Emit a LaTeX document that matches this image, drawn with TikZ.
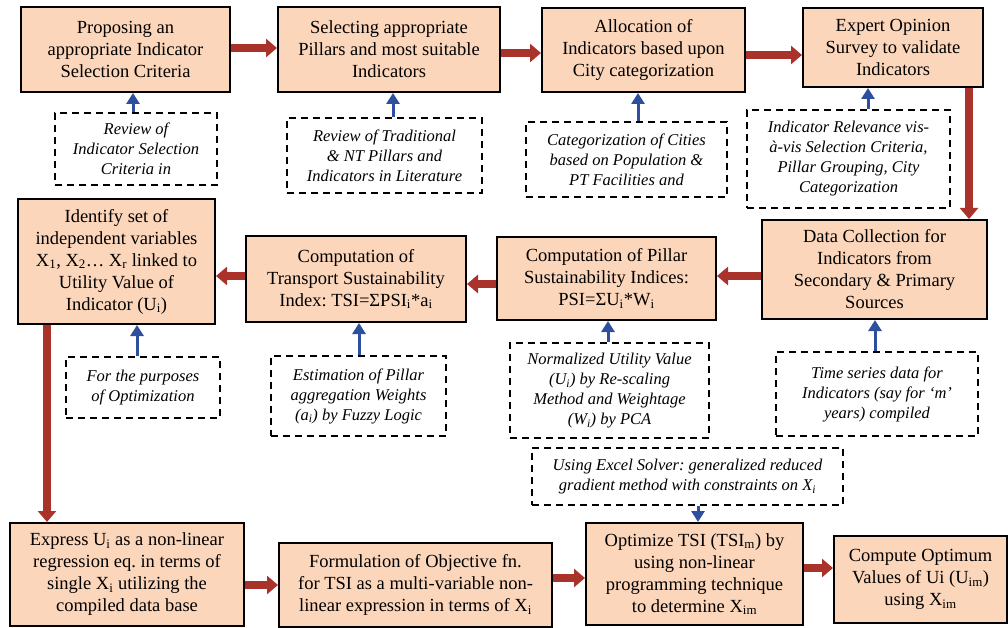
\documentclass[tikz,border=0pt]{standalone}
\usepackage{fontspec}
\setmainfont{Liberation Serif}
\usetikzlibrary{arrows.meta}
\frenchspacing
\definecolor{boxfill}{HTML}{FCD6BA}
\definecolor{redarr}{HTML}{A9322A}
\definecolor{bluearr}{HTML}{2E4F9E}
\tikzset{
 mainbox/.style={draw=black, line width=2pt, fill=boxfill, inner sep=0pt, align=center, font=\fontsize{18.5}{22}\selectfont\frenchspacing},
 dashbox/.style={draw=black, line width=1.8pt, dash pattern=on 7pt off 5pt, inner sep=0pt, align=center, font=\fontsize{16.5}{20}\selectfont\itshape\frenchspacing},
 redarrow/.style={draw=redarr, line width=8pt, -{Triangle[length=11pt,width=18pt]}},
 bluearrow/.style={draw=bluearr, line width=3pt, -{Triangle[length=11pt,width=13pt]}},
}
\newcommand{\sub}[1]{\textsubscript{#1}}
\begin{document}
\begin{tikzpicture}[x=1pt,y=-1pt]
\useasboundingbox (0,0) rectangle (1008,628);
% top row
\node[mainbox, minimum width=209pt, minimum height=85pt] (b1) at (125.5,49.5) {Proposing an\\appropriate Indicator\\Selection Criteria};
\node[mainbox, minimum width=222pt, minimum height=85pt] (b2) at (389,49.5) {Selecting appropriate\\Pillars and most suitable\\Indicators};
\node[mainbox, minimum width=203pt, minimum height=84pt] (b3) at (643.5,50) {Allocation of\\Indicators based upon\\City categorization};
\node[mainbox, minimum width=180pt, minimum height=79pt] (b4) at (893,47.5) {Expert Opinion\\Survey to validate\\Indicators};
% top dashed
\node[dashbox, minimum width=162pt, minimum height=72pt] (d1) at (136,149) {Review of\\Indicator Selection\\Criteria in};
\node[dashbox, minimum width=195pt, minimum height=75pt] (d2) at (384.5,155.5) {Review of Traditional\\\& NT Pillars and\\Indicators in Literature};
\node[dashbox, minimum width=201pt, minimum height=75pt] (d3) at (626.5,159.5) {Categorization of Cities\\based on Population \&\\PT Facilities and};
\node[dashbox, minimum width=203pt, minimum height=98pt] (d4) at (848.5,159) {Indicator Relevance vis-\\à-vis Selection Criteria,\\Pillar Grouping, City\\Categorization};
% middle row
\node[mainbox, minimum width=197pt, minimum height=125pt] (m1) at (116.5,261.5) {Identify set of\\independent variables\\X\sub{1}, X\sub{2}… X\sub{r} linked to\\Utility Value of\\Indicator (U\sub{i})};
\node[mainbox, minimum width=220pt, minimum height=86pt] (m2) at (356,279) {Computation of\\Transport Sustainability\\Index: TSI=ΣPSI\sub{i}*a\sub{i}};
\node[mainbox, minimum width=219pt, minimum height=83pt] (m3) at (606.5,278.5) {Computation of Pillar\\Sustainability Indices:\\PSI=ΣU\sub{i}*W\sub{i}};
\node[mainbox, minimum width=225pt, minimum height=99pt] (m4) at (874.5,269.5) {Data Collection for\\Indicators from\\Secondary \& Primary\\Sources};
% middle dashed
\node[dashbox, minimum width=154pt, minimum height=61pt] (dm1) at (143,387.5) {For the purposes\\of Optimization};
\node[dashbox, minimum width=175pt, minimum height=80pt] (dm2) at (358.5,396) {Estimation of Pillar\\aggregation Weights\\(a\sub{i}) by Fuzzy Logic};
\node[dashbox, minimum width=199pt, minimum height=95pt] (dm3) at (609.5,390.5) {Normalized Utility Value\\(U\sub{i}) by Re-scaling\\Method and Weightage\\(W\sub{i}) by PCA};
\node[dashbox, minimum width=202pt, minimum height=84pt] (dm4) at (877,394) {Time series data for\\Indicators (say for ‘m’\\years) compiled};
\node[dashbox, minimum width=311pt, minimum height=57pt] (dx) at (687.5,476.5) {Using Excel Solver: generalized reduced\\gradient method with constraints on X\sub{i}};
% bottom row
\node[mainbox, minimum width=234pt, minimum height=103pt] (e1) at (127,574.5) {Express U\sub{i} as a non-linear\\regression eq. in terms of\\single X\sub{i} utilizing the\\compiled data base};
\node[mainbox, minimum width=273pt, minimum height=84pt] (e2) at (415.5,585) {Formulation of Objective fn.\\for TSI as a multi-variable non-\\linear expression in terms of X\sub{i}};
\node[mainbox, minimum width=217pt, minimum height=102pt] (e3) at (694.5,574) {Optimize TSI (TSI\sub{m}) by\\using non-linear\\programming technique\\to determine X\sub{im}};
\node[mainbox, minimum width=173pt, minimum height=87pt] (e4) at (920.5,579.5) {Compute Optimum\\Values of Ui (U\sub{im})\\using X\sub{im}};
% red arrows
\coordinate (r1) at ([yshift=1.5pt]b1.east);
\coordinate (r2) at ([yshift=-3.5pt]b2.east);
\coordinate (r3) at ([yshift=-5pt]b3.east);
\coordinate (r4) at ([xshift=76pt]b4.south);
\coordinate (r5) at ([yshift=-6.5pt]m4.west);
\coordinate (r6) at ([yshift=-5.5pt]m3.west);
\coordinate (r7) at ([yshift=3pt]m2.west);
\coordinate (r8) at ([xshift=-69.5pt]m1.south);
\coordinate (r9) at ([yshift=-10.5pt]e1.east);
\coordinate (r10) at ([yshift=7pt]e2.east);
\coordinate (r11) at ([yshift=6pt]e3.east);
\draw[redarrow] (r1) -- (r1 -| b2.west);
\draw[redarrow] (r2) -- (r2 -| b3.west);
\draw[redarrow] (r3) -- (r3 -| b4.west);
\draw[redarrow] (r4) -- (r4 |- m4.north);
\draw[redarrow] (r5) -- (r5 -| m3.east);
\draw[redarrow] (r6) -- (r6 -| m2.east);
\draw[redarrow] (r7) -- (r7 -| m1.east);
\draw[redarrow] (r8) -- (r8 |- e1.north);
\draw[redarrow] (r9) -- (r9 -| e2.west);
\draw[redarrow] (r10) -- (r10 -| e3.west);
\draw[redarrow] (r11) -- (r11 -| e4.west);
% blue arrows
\coordinate (u1) at ([xshift=-3pt]d1.north);
\coordinate (u2) at ([xshift=8.5pt]d2.north);
\coordinate (u3) at ([xshift=11.5pt]d3.north);
\coordinate (u4) at ([xshift=19.5pt]d4.north);
\coordinate (u5) at ([xshift=-6pt]dm1.north);
\coordinate (u6) at ([xshift=0.5pt]dm2.north);
\coordinate (u7) at ([xshift=-1.5pt]dm3.north);
\coordinate (u8) at ([xshift=-2pt]dm4.north);
\coordinate (u9) at ([xshift=10.5pt]dx.south);
\draw[bluearrow] (u1) -- (u1 |- b1.south);
\draw[bluearrow] (u2) -- (u2 |- b2.south);
\draw[bluearrow] (u3) -- (u3 |- b3.south);
\draw[bluearrow] (u4) -- (u4 |- b4.south);
\draw[bluearrow] (u5) -- (u5 |- m1.south);
\draw[bluearrow] (u6) -- (u6 |- m2.south);
\draw[bluearrow] (u7) -- (u7 |- m3.south);
\draw[bluearrow] (u8) -- (u8 |- m4.south);
\draw[bluearrow] (u9) -- (u9 |- e3.north);
\end{tikzpicture}
\end{document}
